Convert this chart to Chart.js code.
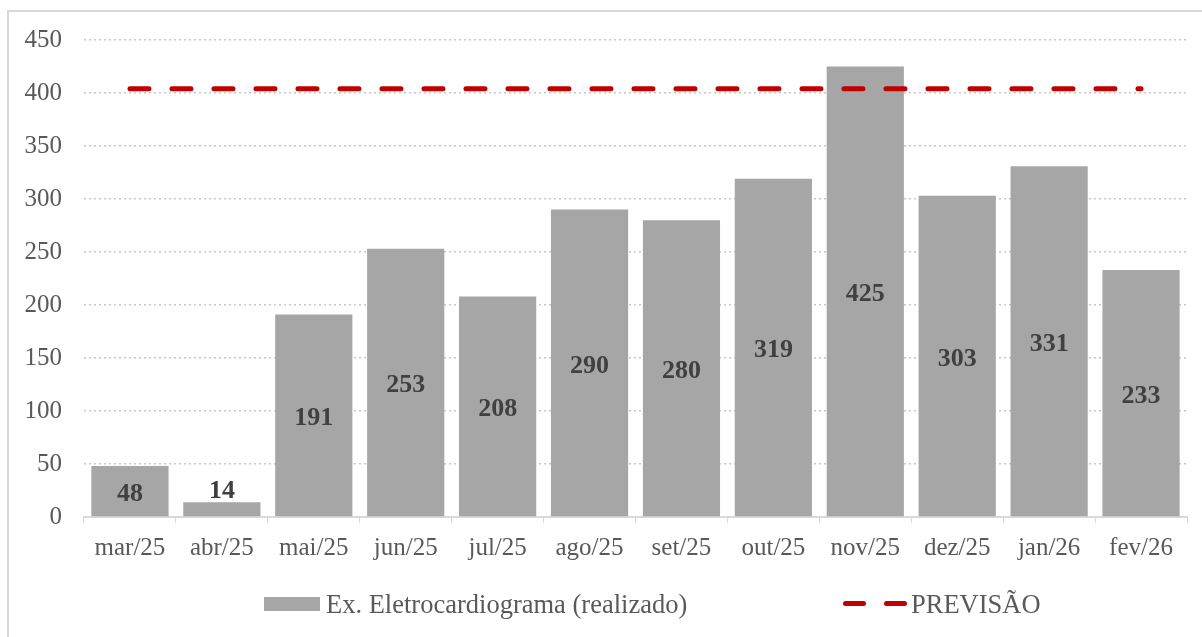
<!DOCTYPE html>
<html>
<head>
<meta charset="utf-8">
<script src="https://cdn.jsdelivr.net/npm/chart.js@4.4.1/dist/chart.umd.min.js"></script>
<style>
  body { margin: 0; background: #fff; }
  #wrap { position: relative; width: 1202px; height: 637px; overflow: hidden; }
  #frame { position: absolute; left: 7px; top: 10px; width: 1300px; height: 700px;
           border-left: 2px solid #d9d9d9; border-top: 2px solid #d9d9d9; }
  canvas { position: absolute; left: 0; top: 0; }
  .lg { position: absolute; font-family: "Liberation Serif", "Times New Roman", serif;
        font-size: 26.5px; color: #595959; line-height: 30px; white-space: nowrap; }
  .box { position: absolute; background: #a6a6a6; }
  .dash { position: absolute; background: #c00000; height: 5px; border-radius: 3px; }
</style>
</head>
<body>
<div id="wrap">
  <div id="frame"></div>
  <canvas id="chart" width="1202" height="637"></canvas>
  <div class="box" style="left:264px; top:597px; width:56px; height:14px;"></div>
  <div class="lg" id="lg1" style="left:326px; top:589px;"></div>
  <div class="dash" style="left:843px; top:601px; width:23px;"></div>
  <div class="dash" style="left:884px; top:601px; width:23px;"></div>
  <div class="lg" id="lg2" style="left:911px; top:589px;"></div>
</div>
<script>
const months = ["mar/25", "abr/25", "mai/25", "jun/25", "jul/25", "ago/25", "set/25", "out/25", "nov/25", "dez/25", "jan/26", "fev/26"];
const realizado = [48, 14, 191, 253, 208, 290, 280, 319, 425, 303, 331, 233];
const previsao = [404, 404, 404, 404, 404, 404, 404, 404, 404, 404, 404, 404];
const seriesNames = ["Ex. Eletrocardiograma (realizado)", "PREVISÃO"];

document.getElementById("lg1").textContent = seriesNames[0];
document.getElementById("lg2").textContent = seriesNames[1];

const serif = "'Liberation Serif', 'Times New Roman', serif";

// draws the values on the bars (inside, or above when the bar is too short)
const barLabels = {
  id: "barLabels",
  afterDatasetsDraw(chart) {
    const ctx = chart.ctx;
    const meta = chart.getDatasetMeta(1);
    ctx.save();
    ctx.font = "bold 26px " + serif;
    ctx.fillStyle = "#404040";
    ctx.textAlign = "center";
    ctx.textBaseline = "middle";
    meta.data.forEach((bar, i) => {
      const h = bar.base - bar.y;
      const y = h < 35 ? bar.y - 11 : (bar.y + bar.base) / 2 + 3;
      ctx.fillText(String(realizado[i]), bar.x, y);
    });
    ctx.restore();
  }
};

new Chart(document.getElementById("chart"), {
  data: {
    labels: months,
    datasets: [
      {
        type: "line",
        label: seriesNames[1],
        data: previsao,
        borderColor: "#c00000",
        borderWidth: 5,
        borderDash: [19, 23],
        borderCapStyle: "round",
        pointRadius: 0,
        order: 0
      },
      {
        type: "bar",
        label: seriesNames[0],
        data: realizado,
        backgroundColor: "#a6a6a6",
        categoryPercentage: 1,
        barPercentage: 0.84,
        order: 1
      }
    ]
  },
  options: {
    responsive: false,
    animation: false,
    layout: { padding: { top: 40, right: 15, left: 0, bottom: 0 } },
    plugins: { legend: { display: false }, tooltip: { enabled: false } },
    scales: {
      x: {
        afterFit(s) { s.height = 120; },
        grid: { drawOnChartArea: false, drawTicks: true, tickLength: 6, color: "#d9d9d9", offset: true },
        border: { color: "#d9d9d9", width: 2 },
        ticks: { color: "#595959", font: { family: serif, size: 25 }, padding: 10 }
      },
      y: {
        min: 0,
        max: 450,
        afterFit(s) { s.width = 84; },
        grid: { color: "#c8c8c8", lineWidth: 1.5, drawTicks: false },
        border: { display: false, dash: [2, 3] },
        ticks: { stepSize: 50, color: "#595959", font: { family: serif, size: 25 }, padding: 22 }
      }
    }
  },
  plugins: [barLabels]
});
</script>
</body>
</html>
